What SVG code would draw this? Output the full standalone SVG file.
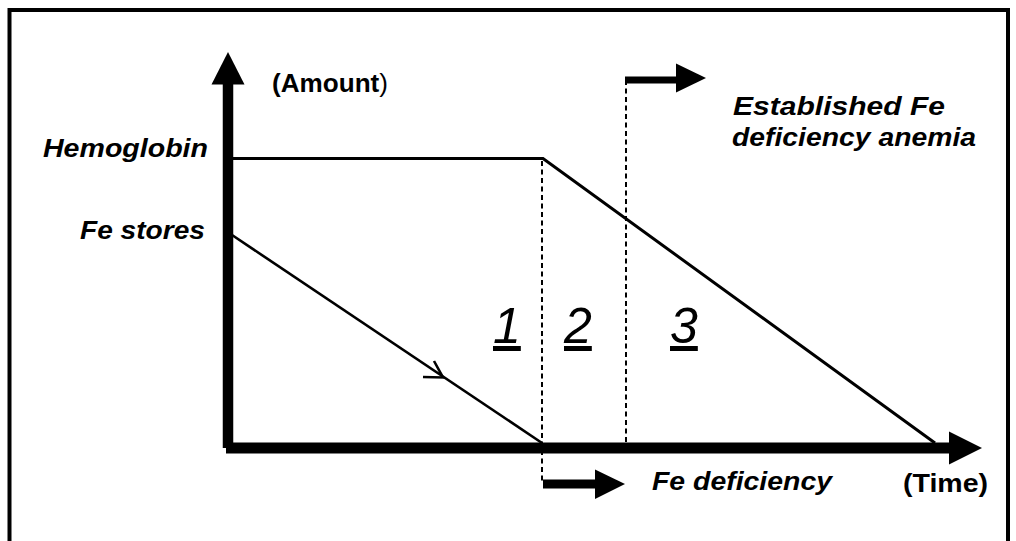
<svg xmlns="http://www.w3.org/2000/svg" width="1016" height="541" viewBox="0 0 1016 541">
<style>
.lbl{font-family:"Liberation Sans",Arial,sans-serif;font-size:26px;font-weight:bold;fill:#000}
.it{font-style:italic}
.num{font-family:"Liberation Sans",Arial,sans-serif;font-size:50px;font-style:italic;font-weight:normal;text-decoration:underline;fill:#000}
.dash{stroke:#000;stroke-width:2;stroke-dasharray:5 3.5;fill:none}
.curve{stroke:#000;fill:none;stroke-linejoin:miter}
</style>
<rect width="1016" height="541" fill="#fff"/>
<rect id="frame" x="9.5" y="10" width="998.5" height="545" fill="none" stroke="#000" stroke-width="4"/>
<g id="axes">
<line x1="228" y1="448" x2="228" y2="83" stroke="#000" stroke-width="10.5"/>
<polygon points="228,52 211.5,84.5 244.5,84.5" fill="#000"/>
<line x1="226" y1="448" x2="950" y2="448" stroke="#000" stroke-width="11"/>
<polygon points="949,431.5 982,448 949,464.5" fill="#000"/>
</g>
<g id="connectors">
<polyline class="curve" points="233,158.5 543,158.5 935,443" stroke-width="3"/>
<line class="curve" x1="232" y1="235" x2="542" y2="443" stroke-width="2.6"/>
<polyline class="curve" points="423,377 443,377.5 434,361" stroke-width="2.6"/>
<line class="dash" x1="542" y1="161" x2="542" y2="484"/>
<line class="dash" x1="626" y1="80" x2="626" y2="442"/>
<line x1="625" y1="80" x2="677" y2="80" stroke="#000" stroke-width="7"/>
<polygon points="676,63.5 706,78 676,92.5" fill="#000"/>
<line x1="543" y1="484" x2="596" y2="484" stroke="#000" stroke-width="9"/>
<polygon points="595,469.5 625,484 595,499" fill="#000"/>
</g>
<g id="amount"><text class="lbl" x="272" y="92" textLength="116" lengthAdjust="spacingAndGlyphs">(Amount<tspan font-weight="normal">)</tspan></text></g>
<g id="hemoglobin"><text class="lbl it" x="43" y="157" textLength="165" lengthAdjust="spacingAndGlyphs">Hemoglobin</text></g>
<g id="fe-stores"><text class="lbl it" x="80" y="239" textLength="125" lengthAdjust="spacingAndGlyphs">Fe stores</text></g>
<g id="established"><text class="lbl it" x="733" y="115" textLength="212" lengthAdjust="spacingAndGlyphs">Established Fe</text><text class="lbl it" x="732" y="146" textLength="244" lengthAdjust="spacingAndGlyphs">deficiency anemia</text></g>
<g id="fe-deficiency"><text class="lbl it" x="652" y="490" textLength="180" lengthAdjust="spacingAndGlyphs">Fe deficiency</text></g>
<g id="time"><text class="lbl" x="903" y="492" textLength="85" lengthAdjust="spacingAndGlyphs">(Time)</text></g>
<g id="stage1"><text class="num" x="493" y="343">1</text></g>
<g id="stage2"><text class="num" x="564" y="343">2</text></g>
<g id="stage3"><text class="num" x="670" y="343">3</text></g>
</svg>
